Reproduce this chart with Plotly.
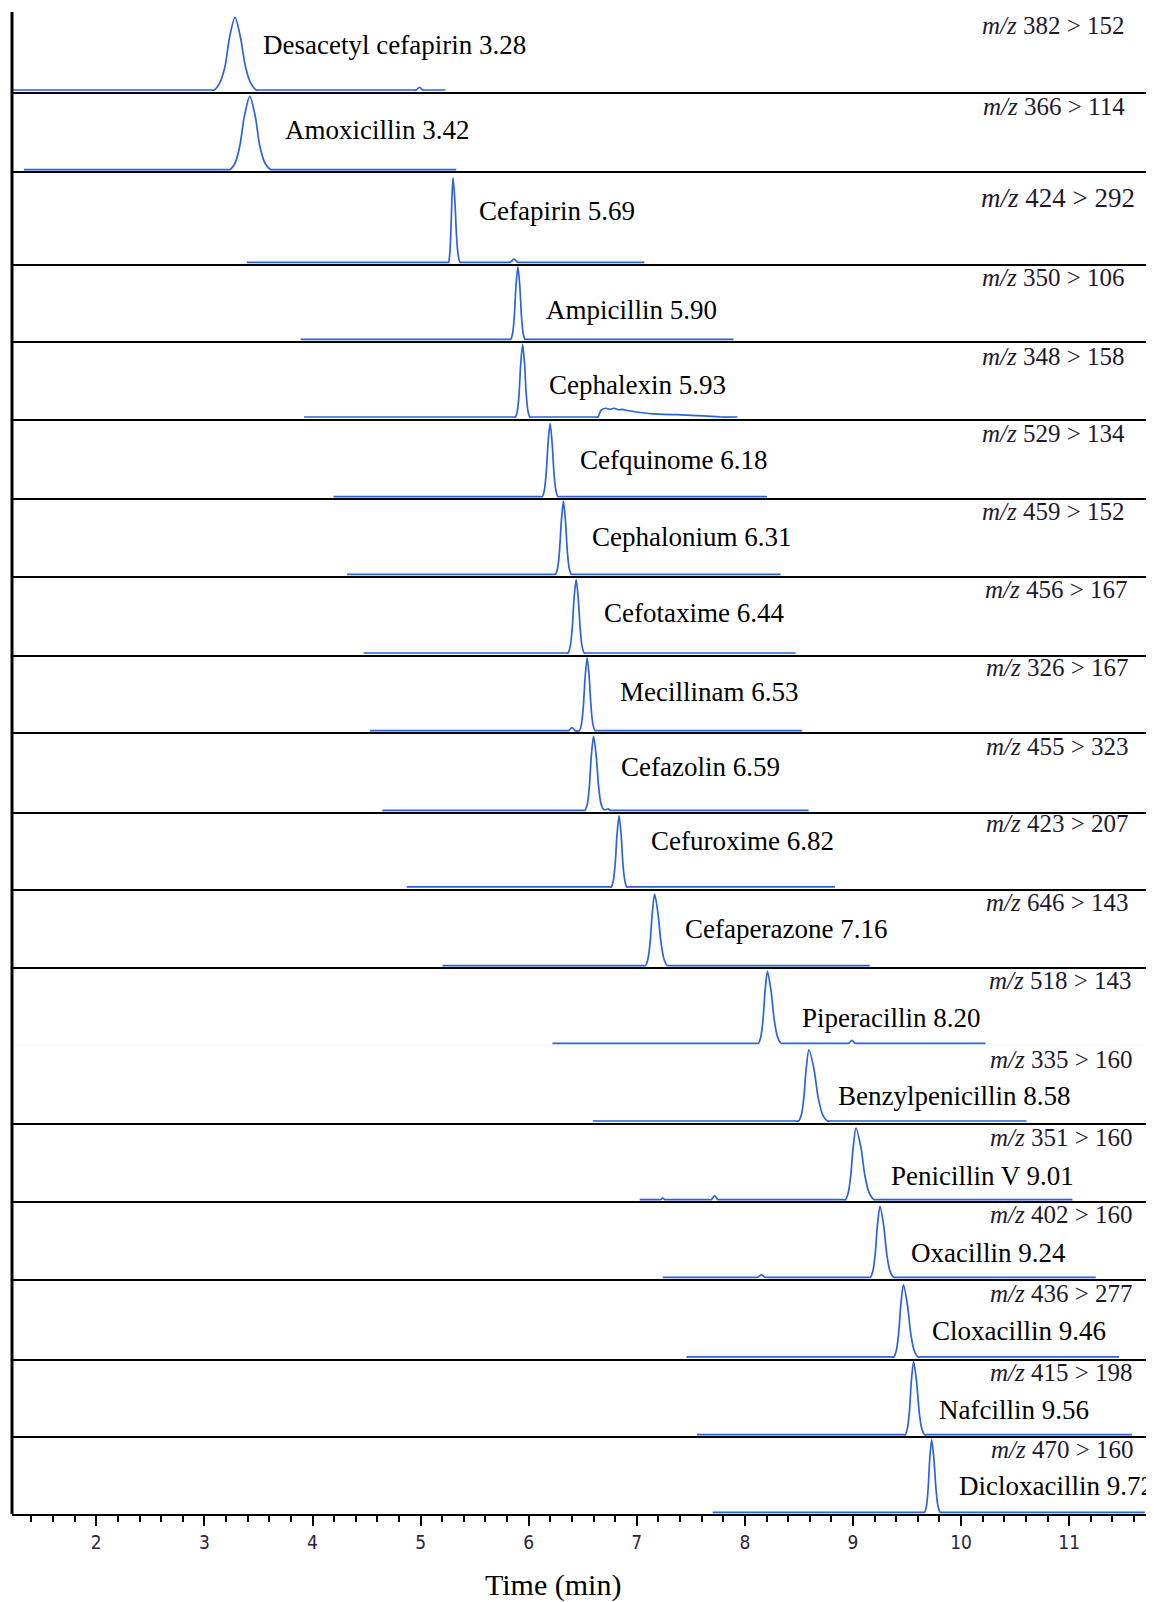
import plotly.graph_objects as go
from plotly.subplots import make_subplots

# ---------------- data ----------------
compounds = ["Desacetyl cefapirin 3.28", "Amoxicillin 3.42", "Cefapirin 5.69", "Ampicillin 5.90",
             "Cephalexin 5.93", "Cefquinome 6.18", "Cephalonium 6.31", "Cefotaxime 6.44",
             "Mecillinam 6.53", "Cefazolin 6.59", "Cefuroxime 6.82", "Cefaperazone 7.16",
             "Piperacillin 8.20", "Benzylpenicillin 8.58", "Penicillin V 9.01", "Oxacillin 9.24",
             "Cloxacillin 9.46", "Nafcillin 9.56", "Dicloxacillin 9.72"]
transitions = ["382 > 152", "366 > 114", "424 > 292", "350 > 106", "348 > 158", "529 > 134",
               "459 > 152", "456 > 167", "326 > 167", "455 > 323", "423 > 207", "646 > 143",
               "518 > 143", "335 > 160", "351 > 160", "402 > 160", "436 > 277", "415 > 198",
               "470 > 160"]

# chromatogram points (time in min, relative intensity)
t01 = [1.22, 3.07, 3.09, 3.14, 3.19, 3.233, 3.283, 3.333, 3.38, 3.43, 3.48, 3.50, 4.94, 4.96, 4.99, 5.02, 5.04, 5.23]
i01 = [0, 0, 0, 0.084, 0.298, 0.679, 0.93, 0.679, 0.298, 0.084, 0, 0, 0, 0, 0.035, 0, 0, 0]
t02 = [1.33, 3.214, 3.234, 3.284, 3.327, 3.37, 3.42, 3.47, 3.513, 3.56, 3.615, 3.635, 5.33]
i02 = [0, 0, 0, 0.085, 0.30, 0.686, 0.94, 0.686, 0.30, 0.085, 0, 0, 0]
t03 = [3.393, 5.245, 5.258, 5.269, 5.279, 5.289, 5.30, 5.317, 5.332, 5.347, 5.365, 5.38,
       5.81, 5.83, 5.863, 5.90, 5.92, 7.07]
i03 = [0, 0, 0, 0.084, 0.297, 0.677, 0.928, 0.677, 0.297, 0.084, 0, 0, 0, 0, 0.035, 0, 0, 0]
t04 = [3.89, 5.82, 5.834, 5.852, 5.867, 5.882, 5.90, 5.918, 5.933, 5.948, 5.966, 5.98, 7.895]
i04 = [0, 0, 0, 0.087, 0.309, 0.704, 0.965, 0.704, 0.309, 0.087, 0, 0, 0]
t05 = [3.922, 5.864, 5.878, 5.896, 5.911, 5.926, 5.944, 5.962, 5.977, 5.992, 6.01, 6.025, 6.62,
       6.64, 6.67, 6.71, 6.75, 6.79, 6.83, 6.87, 6.91, 6.96, 7.01, 7.07, 7.15, 7.25, 7.38, 7.5,
       7.62, 7.75, 7.77, 7.93]
i05 = [0, 0, 0, 0.086, 0.304, 0.694, 0.951, 0.694, 0.304, 0.086, 0, 0, 0, 0, 0.09, 0.115, 0.10,
       0.115, 0.095, 0.10, 0.085, 0.075, 0.062, 0.052, 0.042, 0.034, 0.03, 0.022, 0.014, 0.004, 0, 0]
t06 = [4.195, 6.11, 6.126, 6.145, 6.162, 6.179, 6.198, 6.217, 6.234, 6.251, 6.27, 6.286, 8.204]
i06 = [0, 0, 0, 0.084, 0.30, 0.683, 0.936, 0.683, 0.30, 0.084, 0, 0, 0]
t07 = [4.32, 6.233, 6.249, 6.268, 6.285, 6.302, 6.321, 6.340, 6.357, 6.374, 6.393, 6.409, 8.33]
i07 = [0, 0, 0, 0.086, 0.307, 0.70, 0.96, 0.70, 0.307, 0.086, 0, 0, 0]
t08 = [4.473, 6.348, 6.364, 6.384, 6.402, 6.419, 6.439, 6.459, 6.477, 6.494, 6.514, 6.53, 8.47]
i08 = [0, 0, 0, 0.086, 0.305, 0.695, 0.952, 0.695, 0.305, 0.086, 0, 0, 0]
t09 = [4.531, 6.355, 6.37, 6.40, 6.43, 6.469, 6.488, 6.505, 6.522, 6.541, 6.560, 6.577, 6.594,
       6.613, 6.629, 8.53]
i09 = [0, 0, 0, 0.04, 0, 0, 0.086, 0.307, 0.70, 0.96, 0.70, 0.307, 0.086, 0, 0, 0]
t10 = [4.645, 6.506, 6.522, 6.543, 6.561, 6.579, 6.60, 6.625, 6.647, 6.669, 6.694, 6.72, 6.735,
       6.75, 6.766, 8.59]
i10 = [0, 0, 0, 0.085, 0.303, 0.691, 0.947, 0.691, 0.303, 0.085, 0.01, 0.01, 0.02, 0, 0, 0]
t11 = [4.872, 6.748, 6.764, 6.783, 6.80, 6.817, 6.836, 6.855, 6.872, 6.889, 6.908, 6.924, 8.833]
i11 = [0, 0, 0, 0.086, 0.304, 0.694, 0.95, 0.694, 0.304, 0.086, 0, 0, 0]
t12 = [5.202, 7.063, 7.081, 7.103, 7.123, 7.143, 7.165, 7.196, 7.224, 7.252, 7.283, 7.30, 9.155]
i12 = [0, 0, 0, 0.084, 0.298, 0.679, 0.93, 0.679, 0.298, 0.084, 0, 0, 0]
t13 = [6.219, 8.107, 8.125, 8.147, 8.167, 8.187, 8.209, 8.242, 8.272, 8.302, 8.335, 8.353,
       8.94, 8.96, 8.99, 9.02, 9.04, 10.226]
i13 = [0, 0, 0, 0.085, 0.303, 0.691, 0.946, 0.691, 0.303, 0.085, 0, 0, 0, 0, 0.04, 0, 0, 0]
t14 = [6.595, 8.477, 8.497, 8.523, 8.545, 8.567, 8.593, 8.639, 8.679, 8.719, 8.766, 8.786, 10.605]
i14 = [0, 0, 0, 0.084, 0.30, 0.685, 0.938, 0.685, 0.30, 0.084, 0, 0, 0]
t15 = [7.027, 7.20, 7.22, 7.24, 7.26, 7.28, 7.67, 7.69, 7.72, 7.75, 7.77, 8.909, 8.929, 8.955,
       8.978, 9.002, 9.028, 9.073, 9.112, 9.151, 9.196, 9.216, 11.03]
i15 = [0, 0, 0, 0.02, 0, 0, 0, 0, 0.05, 0, 0, 0, 0, 0.084, 0.298, 0.679, 0.93, 0.679, 0.298,
       0.084, 0, 0, 0]
t16 = [7.24, 8.10, 8.12, 8.153, 8.185, 8.205, 9.14, 9.16, 9.184, 9.205, 9.226, 9.25, 9.284,
       9.313, 9.342, 9.376, 9.396, 11.246]
i16 = [0, 0, 0, 0.035, 0, 0, 0, 0, 0.084, 0.299, 0.681, 0.933, 0.681, 0.299, 0.084, 0, 0, 0]
t17 = [7.46, 9.36, 9.377, 9.401, 9.422, 9.443, 9.467, 9.503, 9.535, 9.566, 9.602, 9.62, 11.462]
i17 = [0, 0, 0, 0.083, 0.296, 0.676, 0.926, 0.676, 0.296, 0.083, 0, 0, 0]
t18 = [7.556, 9.467, 9.483, 9.504, 9.522, 9.54, 9.561, 9.588, 9.612, 9.635, 9.662, 9.68, 11.58]
i18 = [0, 0, 0, 0.087, 0.308, 0.703, 0.963, 0.703, 0.308, 0.087, 0, 0, 0]
t19 = [7.702, 9.646, 9.662, 9.68, 9.695, 9.71, 9.728, 9.749, 9.768, 9.786, 9.807, 9.824, 11.70]
i19 = [0, 0, 0, 0.086, 0.306, 0.697, 0.955, 0.697, 0.306, 0.086, 0, 0, 0]

times = [t01, t02, t03, t04, t05, t06, t07, t08, t09, t10, t11, t12, t13, t14, t15, t16, t17, t18, t19]
intens = [i01, i02, i03, i04, i05, i06, i07, i08, i09, i10, i11, i12, i13, i14, i15, i16, i17, i18, i19]

x_ticks = [2, 3, 4, 5, 6, 7, 8, 9, 10, 11]

# ---------------- layout helpers (pixel geometry of the reference) ----------------
W, H = 1154, 1602
L, R, T, B = 4, 1139, 4, 1506
bounds = [4.1, 83.8, 163.4, 256.4, 333.0, 410.7, 490.4, 568.0, 646.7, 724.3, 804.0, 880.6,
          959.3, 1037.0, 1114.6, 1193.3, 1270.9, 1350.6, 1428.3, 1505.9]
row_h = [bounds[k + 1] - bounds[k] for k in range(len(bounds) - 1)]

# label anchor pixels (left x, centre y) and m/z label (right x, centre y)
name_px = [(253, 37), (275, 122), (469, 203), (536, 302), (539, 377), (570, 452), (582, 529),
           (594, 605), (610, 684), (611, 759), (641, 833), (675, 921), (792, 1010), (828, 1088),
           (881, 1168), (901, 1245), (922, 1323), (929, 1402), (949, 1478)]
mz_px = [(1119, 18), (1119, 98), (1129, 190), (1119, 269), (1119, 348), (1119, 426), (1119, 504),
         (1122, 581), (1123, 659), (1123, 738), (1123, 815), (1123, 894), (1126, 973), (1127, 1051),
         (1127, 1129), (1127, 1206), (1127, 1285), (1127, 1364), (1128, 1441)]


def px_x(x):
    return (x - L) / (R - L)


def px_y(y):
    return 1 - (y - T) / (B - T)


n = len(compounds)
fig = make_subplots(rows=n, cols=1, shared_xaxes=True, vertical_spacing=0, row_heights=row_h)

blue = "#2c63d8"
for k in range(n):
    fig.add_trace(go.Scatter(x=times[k], y=intens[k], mode="lines",
                             line=dict(color=blue, width=1.7, shape="spline", smoothing=0.8),
                             hoverinfo="skip", showlegend=False), row=k + 1, col=1)

for k in range(n):
    last = (k == n - 1)
    fig.update_xaxes(row=k + 1, col=1, range=[1.22, 11.72], showline=True, linecolor="black",
                     linewidth=2, layer="below traces", showgrid=False, zeroline=False,
                     ticks="outside" if last else "", showticklabels=last,
                     tickmode="array", tickvals=x_ticks, ticktext=[str(v) for v in x_ticks],
                     ticklen=10, tickwidth=1.5, tickcolor="black",
                     tickfont=dict(family="Liberation Sans Narrow, DejaVu Sans Condensed, Liberation Sans",
                                   size=19, color="#2e2436"))
    fig.update_yaxes(row=k + 1, col=1, range=[-0.022, 1.0], visible=False, fixedrange=True)

fig.update_xaxes(row=n, col=1, minor=dict(ticks="outside", dtick=0.2, tick0=0, ticklen=6,
                                          tickwidth=1.5, tickcolor="black", showgrid=False))

annotations = []
serif = "Liberation Serif, Times New Roman, serif"
for k in range(n):
    x, y = name_px[k]
    annotations.append(dict(xref="paper", yref="paper", x=px_x(x), y=px_y(y), xanchor="left",
                            yanchor="middle", showarrow=False, text=compounds[k],
                            font=dict(family=serif, size=27, color="black")))
    x, y = mz_px[k]
    annotations.append(dict(xref="paper", yref="paper", x=px_x(x), y=px_y(y), xanchor="right",
                            yanchor="middle", showarrow=False,
                            text="<i>m/z</i> " + transitions[k].replace(">", "&gt;"),
                            font=dict(family=serif, size=25 if k != 2 else 27, color="#1e1a2e")))
annotations.append(dict(xref="paper", yref="paper", x=px_x(545), y=px_y(1577), xanchor="center",
                        yanchor="middle", showarrow=False, text="Time (min)",
                        font=dict(family=serif, size=30, color="black")))

fig.update_layout(width=W, height=H, margin=dict(l=L, r=W - R, t=T, b=H - B),
                  paper_bgcolor="white", plot_bgcolor="white", annotations=annotations,
                  shapes=[dict(type="line", xref="paper", yref="paper", x0=0, x1=0, y0=0, y1=1,
                               line=dict(color="black", width=3))])

fig.write_html("out.html")
